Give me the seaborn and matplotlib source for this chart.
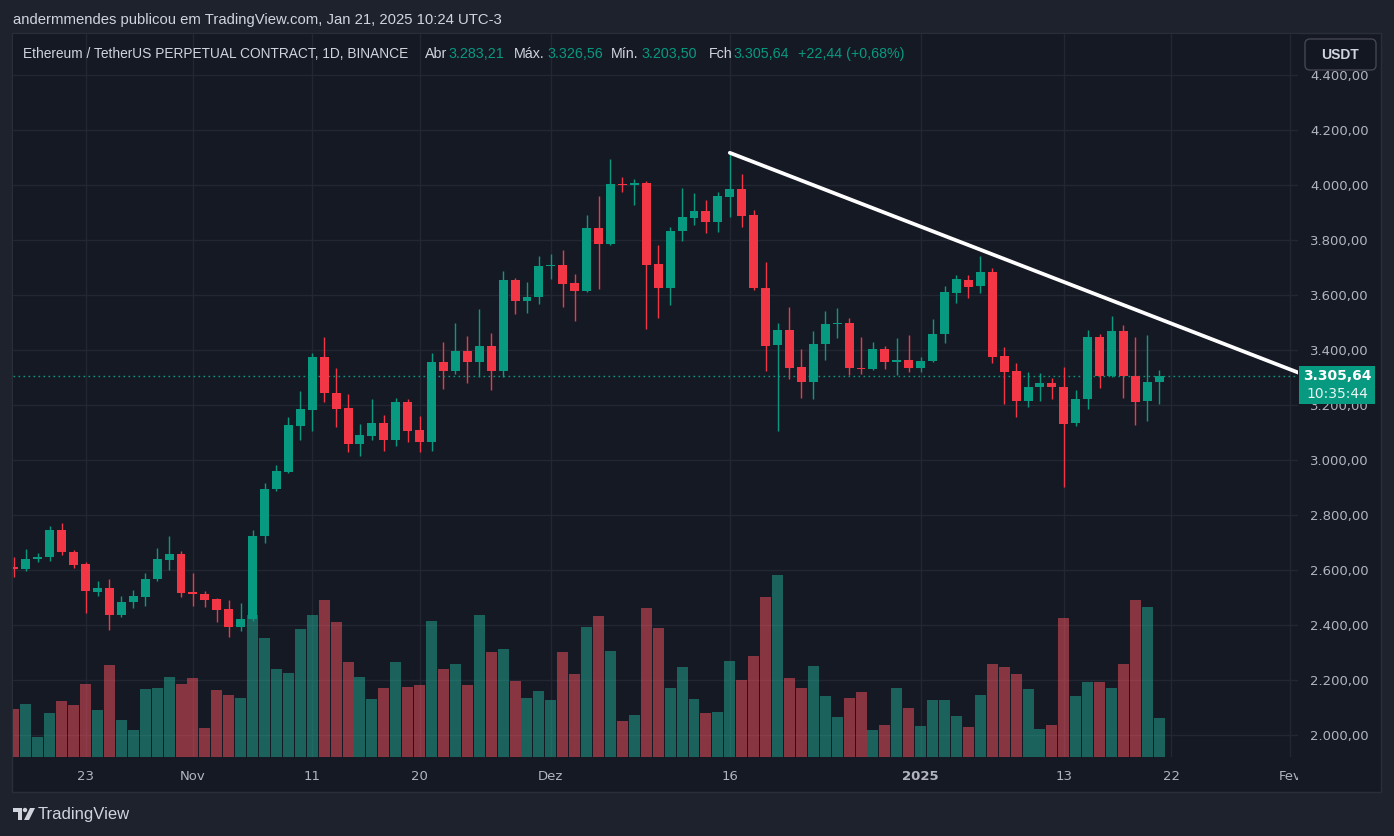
import numpy as np
import pandas as pd
import matplotlib
matplotlib.use("Agg")
import matplotlib.pyplot as plt
import seaborn as sns
from matplotlib.patches import Rectangle, FancyBboxPatch, Polygon, Circle
from matplotlib.transforms import IdentityTransform

# ---------------- data (ETH/USDT perp, 1D) ----------------
dates = pd.date_range("2024-10-17", "2025-01-21", freq="D")
opens = [2611, 2602, 2640, 2647, 2745, 2664, 2620, 2520, 2535, 2436, 2482, 2503, 2566, 2638, 2658, 2519,
         2513, 2495, 2458, 2393, 2420, 2722, 2893, 2958, 3125, 3183, 3375, 3244, 3189, 3058, 3089, 3135,
         3073, 3211, 3109, 3065, 3356, 3324, 3396, 3356, 3415, 3324, 3655, 3578, 3593, 3705, 3709, 3644,
         3615, 3844, 3785, 4004, 3999, 4008, 3713, 3625, 3831, 3881, 3906, 3866, 3958, 3987, 3892, 3625,
         3418, 3474, 3339, 3283, 3421, 3494, 3499, 3335, 3332, 3405, 3355, 3365, 3336, 3360, 3458, 3608,
         3655, 3631, 3684, 3378, 3324, 3216, 3265, 3280, 3266, 3133, 3221, 3447, 3305, 3469, 3306, 3213,
         3283.21]
highs = [2647, 2676, 2662, 2760, 2771, 2673, 2629, 2560, 2567, 2505, 2527, 2589, 2680, 2724, 2669, 2589,
         2524, 2497, 2491, 2480, 2745, 2916, 2982, 3156, 3251, 3389, 3447, 3335, 3240, 3131, 3222, 3164,
         3225, 3222, 3160, 3389, 3429, 3498, 3451, 3549, 3462, 3687, 3662, 3647, 3742, 3749, 3764, 3675,
         3892, 3961, 4095, 4030, 4023, 4013, 3782, 3847, 3990, 3971, 3947, 3976, 4117, 4040, 3909, 3721,
         3499, 3557, 3405, 3470, 3543, 3551, 3518, 3448, 3430, 3415, 3442, 3455, 3375, 3514, 3633, 3671,
         3673, 3742, 3698, 3411, 3353, 3320, 3316, 3298, 3338, 3255, 3473, 3458, 3524, 3491, 3447, 3455,
         3326.56]
lows = [2575, 2597, 2629, 2633, 2655, 2608, 2444, 2505, 2382, 2429, 2462, 2469, 2560, 2600, 2502, 2469,
        2465, 2411, 2356, 2378, 2415, 2698, 2887, 2953, 3073, 3105, 3211, 3120, 3029, 3015, 3073, 3033,
        3051, 3065, 3029, 3033, 3258, 3313, 3280, 3302, 3255, 3302, 3531, 3535, 3567, 3658, 3556, 3505,
        3612, 3620, 3781, 3973, 3928, 3476, 3516, 3563, 3797, 3856, 3826, 3830, 3885, 3847, 3618, 3324,
        3105, 3296, 3224, 3220, 3363, 3443, 3310, 3314, 3326, 3330, 3308, 3319, 3319, 3355, 3424, 3570,
        3590, 3609, 3354, 3205, 3158, 3194, 3216, 3223, 2900, 3125, 3187, 3263, 3302, 3227, 3129, 3143,
        3203.50]
closes = [2602, 2640, 2647, 2745, 2664, 2618, 2522, 2535, 2436, 2484, 2505, 2567, 2640, 2658, 2518, 2511,
          2491, 2455, 2393, 2422, 2724, 2895, 2960, 3127, 3185, 3375, 3242, 3185, 3058, 3091, 3135, 3073,
          3211, 3105, 3065, 3356, 3324, 3396, 3356, 3415, 3324, 3655, 3578, 3593, 3705, 3709, 3640, 3614,
          3844, 3785, 4004, 4000, 4008, 3709, 3625, 3833, 3885, 3906, 3866, 3961, 3987, 3888, 3624, 3416,
          3474, 3336, 3283, 3423, 3496, 3499, 3333, 3331, 3405, 3355, 3365, 3336, 3360, 3459, 3612, 3657,
          3630, 3684, 3376, 3321, 3216, 3266, 3280, 3265, 3132, 3222, 3447, 3304, 3469, 3305, 3212, 3283,
          3305.64]
volume_rel = [48, 53, 20, 44, 56, 52, 73, 47, 92, 37, 27, 68, 69, 80, 73, 79,
              29, 67, 62, 59, 142, 119, 88, 84, 128, 142, 157, 135, 95, 80, 58, 69,
              95, 70, 72, 136, 88, 93, 72, 142, 105, 108, 76, 59, 66, 57, 105, 83,
              130, 141, 106, 36, 42, 149, 129, 69, 90, 58, 44, 45, 96, 77, 101, 160,
              182, 79, 69, 91, 61, 40, 59, 65, 27, 32, 69, 49, 31, 57, 57, 41,
              30, 62, 93, 90, 83, 68, 28, 32, 139, 61, 75, 75, 69, 93, 157, 150, 39]

price_ticks = [2000, 2200, 2400, 2600, 2800, 3000, 3200, 3400, 3600, 3800, 4000, 4200, 4400]
time_tick_dates = ["2024-10-23", "2024-11-01", "2024-11-11", "2024-11-20", "2024-12-01",
                   "2024-12-16", "2025-01-01", "2025-01-13", "2025-01-22", "2025-02-01"]
time_tick_labels = ["23", "Nov", "11", "20", "Dez", "16", "2025", "13", "22", "Fev"]

trend_dates = ["2024-12-16", "2025-02-02"]
trend_prices = [4117, 3312]

header = "andermmendes publicou em TradingView.com, Jan 21, 2025 10:24 UTC-3"
symbol = "Ethereum / TetherUS PERPETUAL CONTRACT, 1D, BINANCE"
change_txt = "+22,44 (+0,68%)"
countdown = "10:35:44"

# ---------------- style ----------------
OUTER = "#1e222d"
CHART_BG = "#151924"
BORDER = "#2a2e39"
GRID = "#232733"
UP = "#089981"
DOWN = "#f23645"
UP_V = "#22ab94"
DOWN_V = "#f7525f"
TXT = "#d1d4dc"
AX_TXT = "#b2b5be"

sns.set_theme(style="dark")
plt.rcParams['font.family'] = ['DejaVu Sans']
NARROW = ['Liberation Sans Narrow', 'Liberation Sans', 'DejaVu Sans']

W, H = 1394, 836
fig = plt.figure(figsize=(W / 100, H / 100), dpi=100, facecolor=OUTER)


def fx(px):
    return px / W


def fy(py):
    return 1 - py / H


def pix(px, py):
    return (px, H - py)


# chart panel
fig.add_artist(Rectangle(pix(12, 792), 1381 - 12, 792 - 33, transform=IdentityTransform(),
                         fc=CHART_BG, ec=BORDER, lw=1, zorder=-5))

t0 = dates[0]


def day_index(d):
    return (pd.Timestamp(d) - t0).days


x = np.arange(len(dates))
o = np.array(opens, float)
h = np.array(highs, float)
l = np.array(lows, float)
c = np.array(closes, float)
vol = np.array(volume_rel, float)

YLO, YHI = 1920, 4549
XLO, XHI = -0.084, 107.63
VMAX = 723

ax_v = fig.add_axes([fx(13), fy(757), fx(1298) - fx(13), fy(34) - fy(757)])
ax_v.set_facecolor(CHART_BG)
ax = ax_v.twinx()

# volume
vcols = [UP_V if cc >= oo else DOWN_V for oo, cc in zip(o, c)]
ax_v.bar(x, vol, width=0.92, color=vcols, alpha=0.5, linewidth=0, zorder=2)
ax_v.set_xlim(XLO, XHI)
ax_v.set_ylim(0, VMAX)
# horizontal grid at price ticks, mapped through both scales
ax_v.set_yticks([(p - YLO) / (YHI - YLO) * VMAX for p in price_ticks])
ax_v.set_yticklabels([])
ax_v.tick_params(axis='y', length=0, left=False)
xt = [day_index(d) for d in time_tick_dates]
ax_v.set_xticks(xt)
ax_v.set_xticklabels(time_tick_labels)
ax_v.tick_params(axis='x', length=0, pad=9, labelsize=9.5, labelcolor=AX_TXT)
for lab in ax_v.get_xticklabels():
    if lab.get_text() == "2025":
        lab.set_fontweight("bold")
ax_v.grid(True, color=GRID, lw=1)
for s in ax_v.spines.values():
    s.set_visible(False)

# candles
ccols = np.where(c >= o, UP, DOWN)
ax.vlines(x, l, h, colors=ccols, lw=1.0, zorder=3)
body_bottom = np.minimum(o, c)
body_h = np.maximum(np.abs(c - o), 4.0)
ax.bar(x, body_h, bottom=body_bottom, width=0.75, color=ccols, linewidth=0, zorder=4)

# last price line
last = closes[-1]
ax.axhline(last, color=UP, lw=1, ls=(0, (1.2, 2.4)), zorder=2)

# trend line
tx = [day_index(d) for d in trend_dates]
sns.lineplot(x=tx, y=trend_prices, ax=ax, color="white", lw=2.7, zorder=6,
             solid_capstyle="round", legend=False)

ax.set_xlim(XLO, XHI)
ax.set_ylim(YLO, YHI)
ax.set_yticks(price_ticks)
ax.set_yticklabels([f"{p:,.2f}".replace(",", "X").replace(".", ",").replace("X", ".") for p in price_ticks])
ax.tick_params(axis='y', length=0, pad=8.6, labelsize=9.5, labelcolor=AX_TXT)
ax.grid(False)
for s in ax.spines.values():
    s.set_visible(False)

# clip "Fev" at the price scale
fig.add_artist(Rectangle(pix(1298, 791), 1380 - 1298, 791 - 758, transform=IdentityTransform(),
                         fc=CHART_BG, ec="none", zorder=5))

# last price label on price scale
y_last = ax.transData.transform((0, last))[1]
fig.add_artist(Rectangle((1299, y_last - 28), 76, 38, transform=IdentityTransform(),
                         fc=UP, ec="none", zorder=8))
fmt_last = f"{last:,.2f}".replace(",", "X").replace(".", ",").replace("X", ".")
fig.text(1337 / W, y_last / H, fmt_last, color="white", fontsize=10, ha="center", va="center",
         fontweight="bold", zorder=9)
fig.text(1337 / W, (y_last - 18) / H, countdown, color="#e8f5f2", fontsize=10, ha="center",
         va="center", zorder=9)

# USDT button
fig.add_artist(FancyBboxPatch(pix(1305, 70), 71, 31, boxstyle="round,pad=0,rounding_size=5",
                              transform=IdentityTransform(), fc="#131722", ec="#434651", lw=1, zorder=8))
fig.text(fx(1340), fy(55), "USDT", color=TXT, fontsize=10, ha="center", va="center", zorder=9,
         family=NARROW, fontweight="bold")

# header texts
fig.text(fx(13), fy(20), header, color=TXT, fontsize=10.7, ha="left", va="center", family=NARROW)
fig.text(fx(23), fy(54), symbol, color=TXT, fontsize=9.9, ha="left", va="center", family=NARROW)


def fmtv(v):
    return f"{v:,.2f}".replace(",", "X").replace(".", ",").replace("X", ".")


segs = [(425, "Abr", 448, fmtv(opens[-1])), (514, "Máx.", 547, fmtv(highs[-1])),
        (611, "Mín.", 641, fmtv(lows[-1])), (709, "Fch", 733, fmtv(closes[-1]))]
for lx, lt, vx, vt in segs:
    fig.text(fx(lx), fy(54), lt, color=TXT, fontsize=10.3, ha="left", va="center", family=NARROW)
    fig.text(fx(vx), fy(54), vt, color=UP, fontsize=10.3, ha="left", va="center", family=NARROW)
fig.text(fx(798), fy(54), change_txt, color=UP, fontsize=10.3, ha="left", va="center", family=NARROW)

# TradingView logo + text
logo_col = "#d1d4dc"
fig.add_artist(Polygon([pix(13, 808), pix(22, 808), pix(22, 820), pix(18, 820), pix(18, 812), pix(13, 812)],
                       closed=True, transform=IdentityTransform(), fc=logo_col, ec="none"))
fig.add_artist(Circle(pix(25, 810), 2.2, transform=IdentityTransform(), fc=logo_col, ec="none"))
fig.add_artist(Polygon([pix(30, 808), pix(35, 808), pix(29, 820), pix(24, 820)],
                       closed=True, transform=IdentityTransform(), fc=logo_col, ec="none"))
fig.text(fx(38), fy(814), "TradingView", color=logo_col, fontsize=12, ha="left", va="center",
         family=NARROW)

fig.savefig("out.png", dpi=100, facecolor=OUTER)
